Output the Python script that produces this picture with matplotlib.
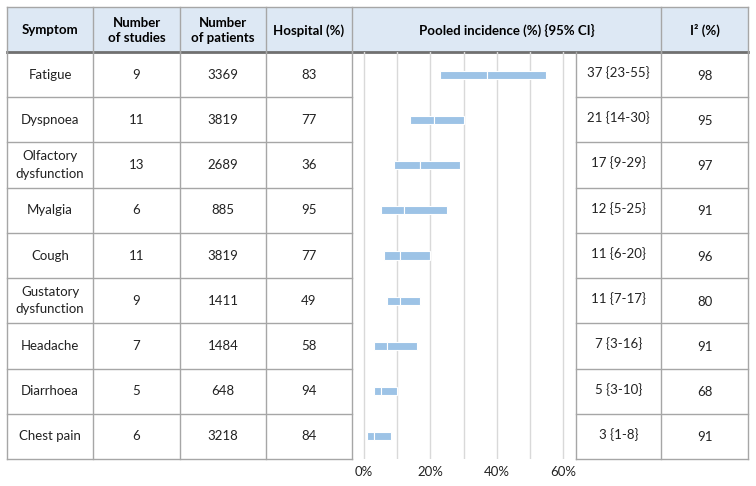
import matplotlib.pyplot as plt
from matplotlib.ticker import FuncFormatter

plt.rcParams['font.family'] = ['Lato', 'DejaVu Sans']

symptoms = ["Fatigue", "Dyspnoea", "Olfactory\ndysfunction", "Myalgia", "Cough",
            "Gustatory\ndysfunction", "Headache", "Diarrhoea", "Chest pain"]
n_studies = [9, 11, 13, 6, 11, 9, 7, 5, 6]
n_patients = [3369, 3819, 2689, 885, 3819, 1411, 1484, 648, 3218]
hospital = [83, 77, 36, 95, 77, 49, 58, 94, 84]
incidence = [37, 21, 17, 12, 11, 11, 7, 5, 3]
ci_low = [23, 14, 9, 5, 6, 7, 3, 3, 1]
ci_high = [55, 30, 29, 25, 20, 17, 16, 10, 8]
i2 = [98, 95, 97, 91, 96, 80, 91, 68, 91]

W, H = 756, 486
top, head_bot, bot = 7, 52, 459
left_cols = [7, 93, 180, 266, 352]
right_cols = [576, 661, 748]
row_h = (bot - head_bot) / len(symptoms)

line_c = "#a6a6a6"
head_c = "#dde8f4"
bar_c = "#9dc3e6"
fs = 9.5

fig = plt.figure(figsize=(W / 100, H / 100), dpi=100)
bg = fig.add_axes([0, 0, 1, 1])
bg.set_xlim(0, W)
bg.set_ylim(H, 0)
bg.axis("off")

# header band
bg.fill_between([7, 748], top, head_bot, color=head_c, lw=0)
bg.plot([7, 748], [top, top], color=line_c, lw=1)
bg.plot([7, 748], [head_bot, head_bot], color="#707070", lw=2)
for x in left_cols + [661, 748]:
    bg.plot([x, x], [top, head_bot], color=line_c, lw=1)

# body grid lines
for x in left_cols:
    bg.plot([x, x], [head_bot, bot], color=line_c, lw=1)
for x in right_cols:
    bg.plot([x, x], [head_bot, bot], color=line_c, lw=1)
for i in range(1, len(symptoms) + 1):
    y = head_bot + i * row_h
    bg.plot([left_cols[0], left_cols[-1]], [y, y], color=line_c, lw=1)
    bg.plot([right_cols[0], right_cols[-1]], [y, y], color=line_c, lw=1)

# header text
headers = ["Symptom", "Number\nof studies", "Number\nof patients", "Hospital (%)"]
for j, h in enumerate(headers):
    bg.text((left_cols[j] + left_cols[j + 1]) / 2, (top + head_bot) / 2 + 1, h,
            ha="center", va="center", fontsize=fs, fontweight="bold", linespacing=1.3)
bg.text((352 + 661) / 2, (top + head_bot) / 2 + 1, "Pooled incidence (%) {95% CI}",
        ha="center", va="center", fontsize=fs, fontweight="bold")
bg.text((661 + 748) / 2, (top + head_bot) / 2 + 1, "I² (%)",
        ha="center", va="center", fontsize=fs, fontweight="bold")

# body text
for i in range(len(symptoms)):
    yc = head_bot + (i + 0.5) * row_h
    vals = [symptoms[i], str(n_studies[i]), str(n_patients[i]), str(hospital[i])]
    for j, v in enumerate(vals):
        bg.text((left_cols[j] + left_cols[j + 1]) / 2, yc, v, ha="center", va="center",
                fontsize=fs, linespacing=1.55, color="#222222")
    bg.text((576 + 661) / 2, yc - 2, f"{incidence[i]} {{{ci_low[i]}-{ci_high[i]}}}",
            ha="center", va="center", fontsize=fs, color="#222222")
    bg.text((661 + 748) / 2, yc + 1, str(i2[i]), ha="center", va="center",
            fontsize=fs, color="#222222")

# bar chart section
x0, px_per = 364, 3.3167
ax = fig.add_axes([352 / W, 1 - bot / H, (576 - 352) / W, (bot - head_bot) / H])
ax.set_facecolor("none")
ax.set_xlim((352 - x0) / px_per, (576 - x0) / px_per)
ypos = list(range(len(symptoms)))
ax.set_ylim(len(symptoms) - 0.5, -0.5)
lo_w = [e - l for e, l in zip(incidence, ci_low)]
hi_w = [h - e for h, e in zip(ci_high, incidence)]
ax.barh(ypos, lo_w, left=ci_low, height=0.18, color=bar_c, edgecolor="white", lw=0.8, zorder=3)
ax.barh(ypos, hi_w, left=incidence, height=0.18, color=bar_c, edgecolor="white", lw=0.8, zorder=3)
ax.set_xticks([0, 20, 40, 60])
ax.set_xticks([10, 30, 50], minor=True)
ax.xaxis.set_major_formatter(FuncFormatter(lambda v, p: f"{v:.0f}%"))
ax.grid(axis="x", which="both", color="#d9d9d9", lw=1)
ax.set_axisbelow(True)
ax.tick_params(axis="x", which="both", length=0, labelsize=fs, pad=5, colors="#222222")
ax.set_yticks([])
for s in ax.spines.values():
    s.set_visible(False)

fig.savefig("out.png", dpi=100, facecolor="white")
